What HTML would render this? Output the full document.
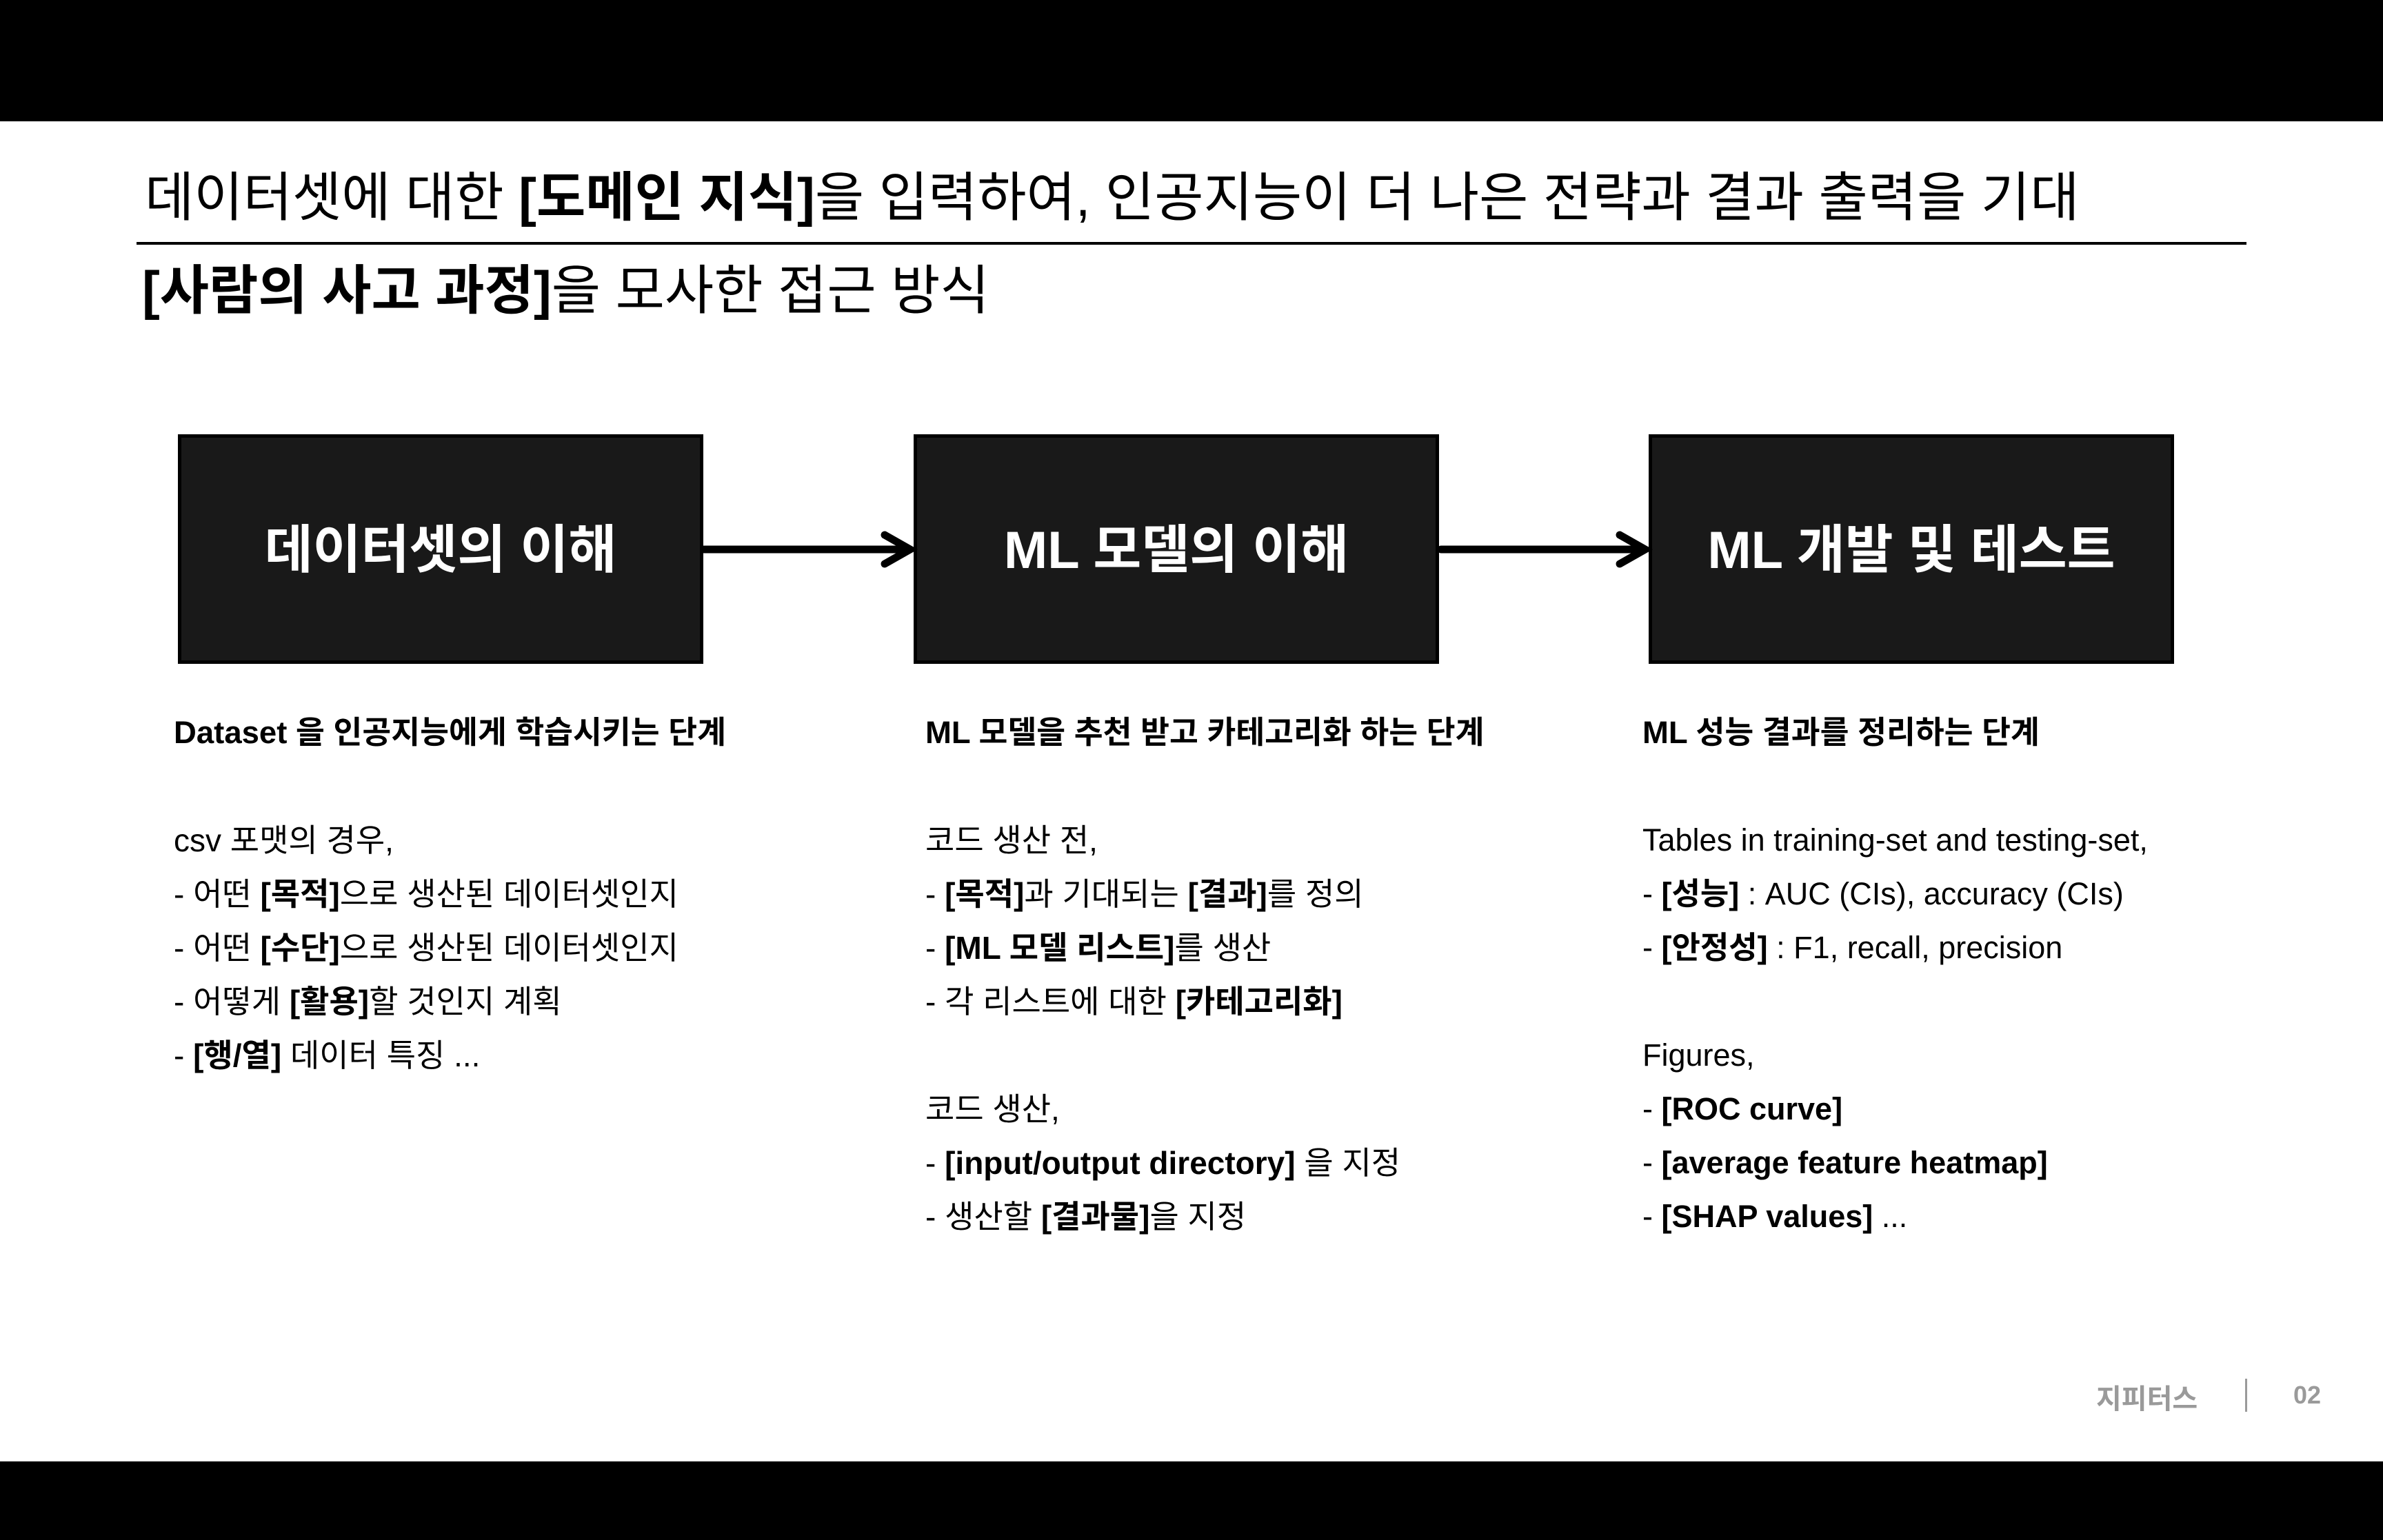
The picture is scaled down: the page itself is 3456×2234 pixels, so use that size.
<!DOCTYPE html>
<html><head><meta charset="utf-8"><style>
html,body{margin:0;padding:0;}
body{width:3456px;height:2234px;position:relative;background:#fff;overflow:hidden;font-family:"Liberation Sans","Noto Sans CJK KR",sans-serif;color:#000;}
.bar{position:absolute;left:0;width:3456px;background:#000;}
.t{position:absolute;white-space:nowrap;}
.box{position:absolute;top:630px;width:752px;height:323px;background:#191919;border:5px solid #000;color:#fff;font-weight:bold;font-size:76px;display:flex;align-items:center;justify-content:center;}
.box span{position:relative;top:-6px;}
.col{position:absolute;top:1024px;font-size:46px;line-height:78px;white-space:nowrap;}
.col .h{font-weight:bold;margin-bottom:78px;font-size:45.5px;}
b{font-weight:bold;}
</style></head><body>
<div class="bar" style="top:0;height:176px"></div>
<div class="bar" style="top:2120px;height:114px"></div>
<div class="t" style="left:210px;top:224px;font-size:77.5px;">데이터셋에 대한 <b>[도메인 지식]</b>을 입력하여, 인공지능이 더 나은 전략과 결과 출력을 기대</div>
<div style="position:absolute;left:198px;top:351px;width:3060px;height:4px;background:#000"></div>
<div class="t" style="left:206px;top:359px;font-size:77.5px;"><b>[사람의 사고 과정]</b>을 모사한 접근 방식</div>
<div class="box" style="left:258px"><span>데이터셋의 이해</span></div>
<div class="box" style="left:1325px"><span>ML 모델의 이해</span></div>
<div class="box" style="left:2391px"><span>ML 개발 및 테스트</span></div>
<svg style="position:absolute;left:0;top:0" width="3456" height="2234">
<g stroke="#000" stroke-width="11" stroke-linecap="round" fill="none">
<line x1="1021" y1="797" x2="1318" y2="797"/><polyline points="1283,776 1320,797 1283,818"/>
<line x1="2090" y1="797" x2="2384" y2="797"/><polyline points="2349,776 2386,797 2349,818"/>
</g></svg>
<div class="col" style="left:252px">
<div class="h">Dataset 을 인공지능에게 학습시키는 단계</div>
<div>csv 포맷의 경우,</div>
<div>- 어떤 <b>[목적]</b>으로 생산된 데이터셋인지</div>
<div>- 어떤 <b>[수단]</b>으로 생산된 데이터셋인지</div>
<div>- 어떻게 <b>[활용]</b>할 것인지 계획</div>
<div>- <b>[행/열]</b> 데이터 특징 ...</div>
</div>
<div class="col" style="left:1342px">
<div class="h">ML 모델을 추천 받고 카테고리화 하는 단계</div>
<div>코드 생산 전,</div>
<div>- <b>[목적]</b>과 기대되는 <b>[결과]</b>를 정의</div>
<div>- <b>[ML 모델 리스트]</b>를 생산</div>
<div>- 각 리스트에 대한 <b>[카테고리화]</b></div>
<div>&nbsp;</div>
<div>코드 생산,</div>
<div>- <b>[input/output directory]</b> 을 지정</div>
<div>- 생산할 <b>[결과물]</b>을 지정</div>
</div>
<div class="col" style="left:2382px;font-size:45px">
<div class="h">ML 성능 결과를 정리하는 단계</div>
<div>Tables in training-set and testing-set,</div>
<div>- <b>[성능]</b> : AUC (CIs), accuracy (CIs)</div>
<div>- <b>[안정성]</b> : F1, recall, precision</div>
<div>&nbsp;</div>
<div>Figures,</div>
<div>- <b>[ROC curve]</b></div>
<div>- <b>[average feature heatmap]</b></div>
<div>- <b>[SHAP values]</b> ...</div>
</div>
<div class="t" style="left:3040px;top:1997px;font-size:40px;color:#9a9a9a;font-weight:bold">지피터스</div>
<div style="position:absolute;left:3256px;top:2000px;width:3px;height:48px;background:#9a9a9a"></div>
<div class="t" style="left:3326px;top:2003px;font-size:36px;color:#9a9a9a;font-weight:bold">02</div>
</body></html>
